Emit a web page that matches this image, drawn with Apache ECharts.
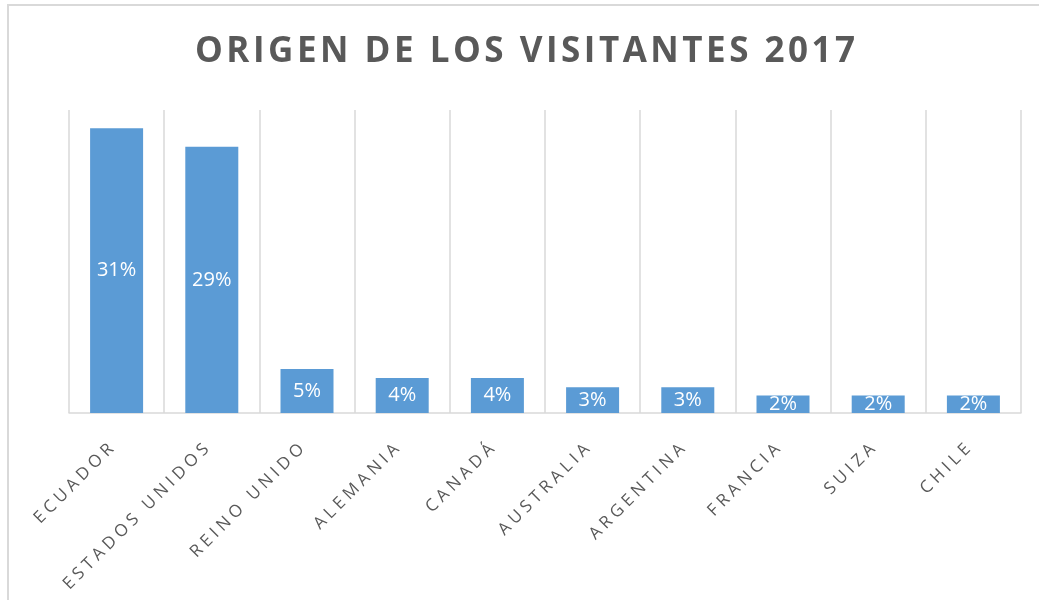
<!DOCTYPE html>
<html>
<head>
<meta charset="UTF-8">
<script src="https://cdn.jsdelivr.net/npm/echarts@6/dist/echarts.min.js"></script>
<style>
  html, body { margin: 0; padding: 0; background: #fff; }
  #chart { width: 1039px; height: 600px; }
</style>
</head>
<body>
<div id="chart"></div>
<script>
// datos
var paises = ['ECUADOR', 'ESTADOS UNIDOS', 'REINO UNIDO', 'ALEMANIA', 'CANADÁ',
  'AUSTRALIA', 'ARGENTINA', 'FRANCIA', 'SUIZA', 'CHILE'];
var porcentajes = [31, 29, 4.8, 3.8, 3.8, 2.8, 2.8, 1.9, 1.9, 1.9];
var titulo = 'ORIGEN DE LOS VISITANTES 2017';

// espaciado entre letras (echarts no tiene letterSpacing)
function espaciar(s, sep) {
  return s.split('').join(sep);
}

var chart = echarts.init(document.getElementById('chart'));
var gris = '#595959';

chart.setOption({
  animation: false,
  title: {
    text: espaciar(titulo, '\u200a'),
    left: 190,
    top: 30,
    textStyle: {
      fontFamily: 'Open Sans',
      fontWeight: 'bold',
      fontSize: 35,
      color: gris
    }
  },
  graphic: [{
    type: 'rect',
    shape: { x: 8, y: 5, width: 1100, height: 700 },
    style: { fill: 'none', stroke: '#d9d9d9', lineWidth: 2 }
  }],
  grid: { left: 69, right: 18, top: 110, bottom: 187 },
  xAxis: {
    type: 'category',
    data: paises,
    axisLine: { lineStyle: { color: '#d9d9d9', width: 1.5 } },
    axisTick: { show: false },
    splitLine: { show: true, lineStyle: { color: '#d9d9d9', width: 1.5 } },
    axisLabel: {
      interval: 0,
      rotate: 45,
      margin: 28,
      padding: [0, 8, 0, 0],
      color: gris,
      fontFamily: 'Open Sans',
      fontSize: 17,
      formatter: function (v) { return espaciar(v, '\u2005'); }
    }
  },
  yAxis: {
    type: 'value',
    min: 0,
    max: 33,
    show: false,
    splitLine: { show: false }
  },
  series: [{
    type: 'bar',
    data: porcentajes,
    barWidth: 53,
    itemStyle: { color: '#5b9bd5' },
    label: {
      show: true,
      position: 'inside',
      color: '#fff',
      fontFamily: 'Open Sans',
      fontSize: 20,
      formatter: function (p) { return Math.round(p.value) + '%'; }
    }
  }]
});
</script>
</body>
</html>
